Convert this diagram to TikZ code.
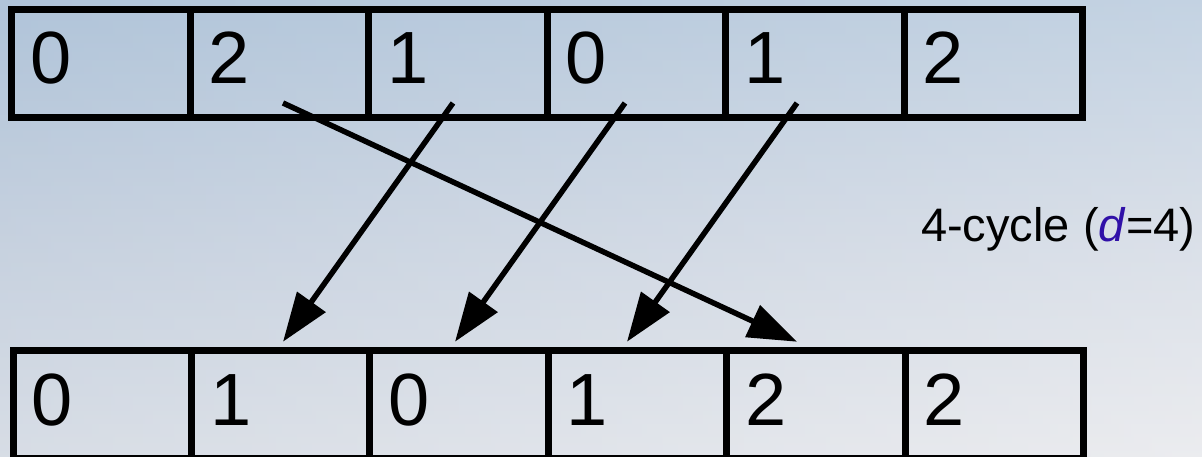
\documentclass[tikz,border=0pt]{standalone}
\usepackage{fontspec}
\setmainfont{Liberation Sans}
\usetikzlibrary{arrows.meta,calc}
\definecolor{bgtop}{RGB}{176,196,217}
\definecolor{bgmid}{RGB}{205,213,225}
\definecolor{bgbot}{RGB}{229,230,234}
\definecolor{dblue}{RGB}{48,16,168}
\tikzset{
  cell/.style={draw=black, line width=7pt, minimum width=178.5pt, minimum height=108pt, inner sep=0pt, outer sep=0pt},
  bcell/.style={cell, minimum width=178.4pt},
  digit/.style={anchor=base west, inner sep=0pt, font=\fontsize{74}{80}\selectfont},
  moveto/.style={line width=5.5pt, -{Triangle[length=49pt,width=34pt]}},
  note/.style={anchor=base west, inner sep=0pt, font=\fontsize{47}{52}\selectfont}
}
\begin{document}
\begin{tikzpicture}[x=1pt,y=1pt]
\useasboundingbox (0,0) rectangle (1202,457);
\clip (0,0) rectangle (1202,457);
\shade[top color=bgtop, bottom color=bgbot, middle color=bgmid] (0,0) rectangle (1202,457);
\shade[left color=bgtop, right color=white, opacity=0.25] (0,0) rectangle (1202,457);
% top row
\foreach \v [count=\i from 0] in {0,2,1,0,1,2} {
  \node[cell] (t\i) at ({100.75+178.5*\i},393.5) {};
  \node[digit] (td\i) at ({30+178.5*\i},373) {\v};
}
% bottom row
\foreach \v [count=\i from 0] in {0,1,0,1,2,2} {
  \node[bcell] (b\i) at ({102.2+178.4*\i},52.25) {};
  \node[digit] (bd\i) at ({31.5+178.4*\i},31) {\v};
}
% arrow ends
\coordinate (s1) at ($(t1.south)+(3.75,14.5)$);
\coordinate (s2) at ($(t2.south)+(-4.75,14.5)$);
\coordinate (s3) at ($(t3.south)+(-11.25,14.5)$);
\coordinate (s4) at ($(t4.south)+(-17.75,14.5)$);
\coordinate (e1) at ($(b4.north)+(-18.8,9)$);
\coordinate (e2) at ($(b1.north)+(2.4,9)$);
\coordinate (e3) at ($(b2.north)+(-4,9)$);
\coordinate (e4) at ($(b3.north)+(-10.4,9)$);
\draw[moveto] (s1) -- (e1);
\draw[moveto] (s2) -- (e2);
\draw[moveto] (s3) -- (e3);
\draw[moveto] (s4) -- (e4);
\node[note] (lbl) at (921,215.5) {4-cycle (\textcolor{dblue}{\textit{d}}=4)};
\end{tikzpicture}
\end{document}
